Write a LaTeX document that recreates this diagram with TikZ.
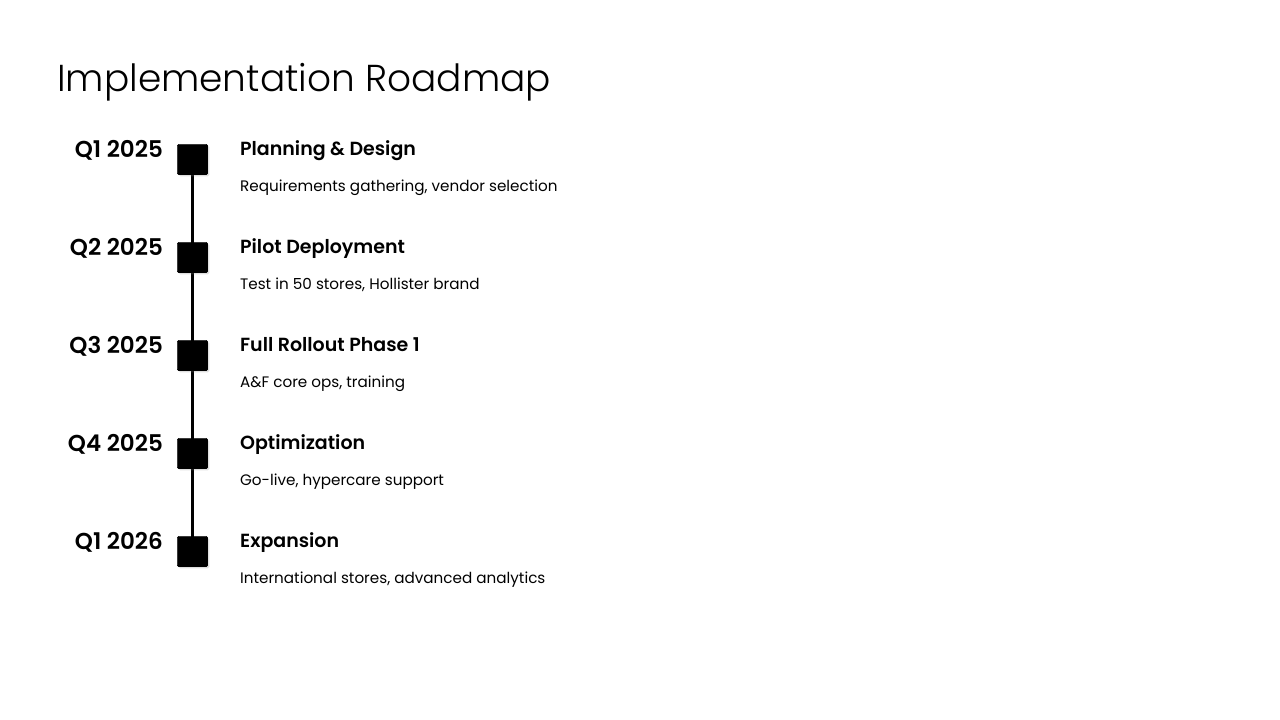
\documentclass[tikz,border=0pt]{standalone}
\usepackage{fontspec}
\setmainfont{Poppins}[BoldFont={Poppins SemiBold}]
\newfontfamily\lightfont{Poppins Light}
\usepackage{tikz}
\usetikzlibrary{shadows,positioning}
\tikzset{
  stepsq/.style={rectangle, draw=black, fill=black, minimum size=30.5pt, inner sep=0pt, rounded corners=1.5pt, drop shadow={shadow xshift=1.5pt, shadow yshift=-1.5pt, opacity=.25}},
  qlabel/.style={font=\fontsize{23}{26}\selectfont\bfseries, inner sep=0pt, anchor=base east},
  steptitle/.style={font=\fontsize{19}{23}\selectfont\bfseries, inner sep=0pt, anchor=base west},
  stepdesc/.style={font=\fontsize{15.2}{18}\selectfont, inner sep=0pt, anchor=base west},
  pagetitle/.style={font=\lightfont\fontsize{37.5}{44}\selectfont, inner sep=0pt, anchor=base west}
}

\begin{document}
\begin{tikzpicture}[x=1pt,y=-1pt]
  \useasboundingbox (0,0) rectangle (1280,720);
  \node[pagetitle] (title) at (57,91) {Implementation Roadmap};
  % timeline line first, squares on top
  \coordinate (top) at (192.5,159.5);
  \coordinate (bot) at (192.5,551.5);
  \draw[line width=3pt] (top) -- (bot);
  \foreach \q/\t/\d [count=\i] in {
      Q1 2025/Planning \& Design/{Requirements gathering, vendor selection},
      Q2 2025/Pilot Deployment/{Test in 50 stores, Hollister brand},
      Q3 2025/Full Rollout Phase 1/{A\&F core ops, training},
      Q4 2025/Optimization/{Go-live, hypercare support},
      Q1 2026/Expansion/{International stores, advanced analytics}}{
    \node[stepsq] (sq\i) at (192.5,{159.5+98*(\i-1)}) {};
    \node[qlabel] (q\i) at ([xshift=-14pt,yshift=2.5pt]sq\i.west) {\q};
    \node[steptitle] (t\i) at ([xshift=32pt,yshift=4.5pt]sq\i.east) {\t};
    \node[stepdesc] (d\i) at ([yshift=-36.5pt]t\i.base west) {\d};
  }
\end{tikzpicture}
\end{document}
